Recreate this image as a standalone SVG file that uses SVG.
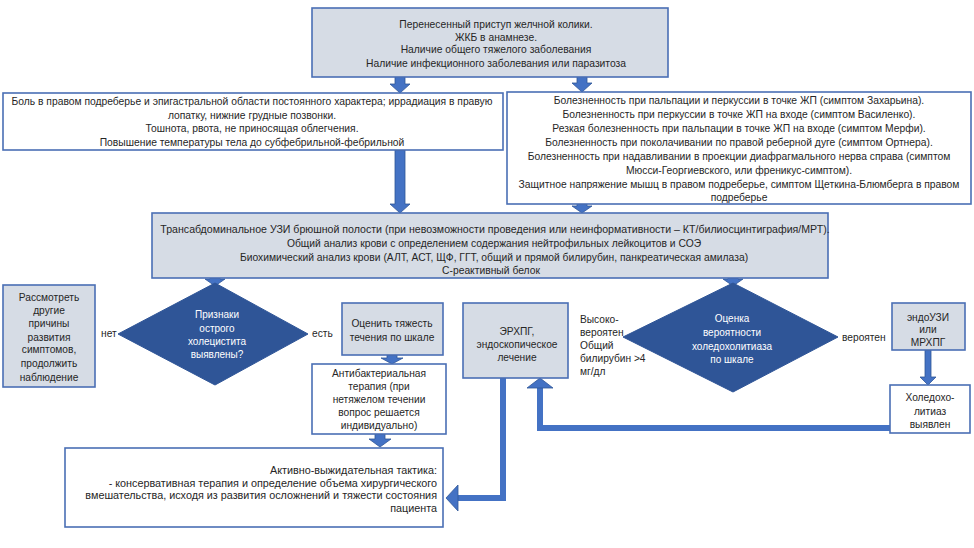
<svg xmlns="http://www.w3.org/2000/svg" width="974" height="548" viewBox="0 0 974 548">
<style>
.bg{fill:#ffffff}
.gray{fill:#d6dce5;stroke:#4a6fb5;stroke-width:1.6}
.white{fill:#ffffff;stroke:#4a6fb5;stroke-width:1.6}
.dia{fill:#2f5597;stroke:#2f5597;stroke-width:1}
text{font-family:"Liberation Sans",Arial,sans-serif;font-size:10.3px;fill:#262626}
.c{text-anchor:middle}
.r{text-anchor:end}
.l{text-anchor:start}
.w{fill:#ffffff;font-size:10px}
.big{font-size:10.8px}
.mid{font-size:10.2px}
.wide{font-size:10.6px}
.arr{fill:#4472c4;stroke:#2f5597;stroke-width:0.8}
.line{fill:none;stroke:#4472c4;stroke-width:6}
</style>
<rect class="bg" x="0" y="0" width="974" height="548"/>

<g id="connectors">
  <polygon class="arr" points="395,76 405,76 405,84 410,84 400,93 390,84 395,84"/>
  <polygon class="arr" points="577,76 587,76 587,83 592,83 582,92 572,83 577,83"/>
  <polygon class="arr" points="395,150 405,150 405,204 410,204 400,213 390,204 395,204"/>
  <polygon class="arr" points="577,204 587,204 587,206 592,206 582,213 572,206 577,206"/>
  <polygon class="arr" points="210,278 220,278 220,279 225,279 215,286 205,279 210,279"/>
  <polygon class="arr" points="728,278 738,278 738,279 743,279 733,286 723,279 728,279"/>
  <polygon class="arr" points="387,355 397,355 397,358 403,358 392,364 381,358 387,358"/>
  <polygon class="arr" points="375,434 385,434 385,439 391,439 380,447 369,439 375,439"/>
  <polygon class="arr" points="925,350 931,350 931,377 936,377 928,385 920,377 925,377"/>
  <polyline class="line" points="890,428 540,428 540,387"/>
  <polygon class="arr" points="527,388 553,388 540,378"/>
  <polyline class="line" points="503,378 503,498 457,498"/>
  <polygon class="arr" points="458,485 458,511 446,498"/>
</g>

<g id="n-top">
  <rect class="gray" x="312" y="8" width="356" height="69"/>
  <text class="c" x="496" y="27.5">Перенесенный приступ желчной колики.</text>
  <text class="c" x="496" y="40.5">ЖКБ в анамнезе.</text>
  <text class="c" x="496" y="53">Наличие общего тяжелого заболевания</text>
  <text class="c" x="496" y="66.5">Наличие инфекционного заболевания или паразитоза</text>
</g>

<g id="n-left">
  <rect class="white" x="3" y="93" width="500" height="57"/>
  <text class="c" x="252" y="105">Боль в правом подреберье  и эпигастральной области постоянного характера; иррадиация в правую</text>
  <text class="c" x="252" y="118.5">лопатку, нижние грудные позвонки.</text>
  <text class="c" x="252" y="132">Тошнота, рвота, не приносящая облегчения.</text>
  <text class="c" x="252" y="145.5">Повышение температуры  тела до субфебрильной-фебрильной</text>
</g>

<g id="n-right">
  <rect class="white" x="507" y="92" width="464" height="112"/>
  <text class="c" x="739" y="103.5">Болезненность при пальпации и перкуссии в точке ЖП (симптом Захарьина).</text>
  <text class="c" x="739" y="117.5">Болезненность при перкуссии в точке ЖП на входе (симптом  Василенко).</text>
  <text class="c" x="739" y="131.5">Резкая болезненность при пальпации в точке ЖП на входе (симптом  Мерфи).</text>
  <text class="c" x="739" y="145.5">Болезненность при поколачивании по правой реберной дуге (симптом Ортнера).</text>
  <text class="c" x="739" y="159.5">Болезненность при надавливании в проекции диафрагмального нерва справа (симптом</text>
  <text class="c" x="739" y="173.5">Мюсси-Георгиевского, или френикус-симптом).</text>
  <text class="c" x="739" y="187.5">Защитное напряжение мышц в правом подреберье, симптом Щеткина-Блюмберга в правом</text>
  <text class="c" x="739" y="200.5">подреберье</text>
</g>

<g id="n-diag">
  <rect class="gray" x="152" y="213" width="676" height="65"/>
  <text class="c wide" x="495" y="232.5">Трансабдоминальное УЗИ брюшной полости (при невозможности проведения или неинформативности – КТ/билиосцинтиграфия/МРТ).</text>
  <text class="c" x="494" y="246.5">Общий анализ крови с определением содержания нейтрофильных лейкоцитов и СОЭ</text>
  <text class="c" x="494" y="260.5">Биохимический анализ крови (АЛТ, АСТ, ЩФ, ГГТ, общий и прямой билирубин, панкреатическая амилаза)</text>
  <text class="c" x="491" y="273.5">С-реактивный белок</text>
</g>

<g id="n-dec1">
  <polygon class="dia" points="215,283 308,334 215,385 118,334"/>
  <text class="c w" x="217" y="318">Признаки</text>
  <text class="c w" x="217" y="331.5">острого</text>
  <text class="c w" x="217" y="345">холецистита</text>
  <text class="c w" x="217" y="358">выявлены?</text>
</g>
<text class="l mid" x="101" y="337">нет</text>
<text class="l mid" x="312" y="337">есть</text>

<g id="n-other">
  <rect class="gray" x="3" y="285" width="92" height="102"/>
  <text class="c mid" x="49" y="301">Рассмотреть</text>
  <text class="c mid" x="49" y="314">другие</text>
  <text class="c mid" x="49" y="327">причины</text>
  <text class="c mid" x="49" y="340.5">развития</text>
  <text class="c mid" x="49" y="353">симптомов,</text>
  <text class="c mid" x="49" y="366.5">продолжить</text>
  <text class="c mid" x="49" y="380.5">наблюдение</text>
</g>

<g id="n-severity">
  <rect class="gray" x="342" y="303" width="101" height="52"/>
  <text class="c mid" x="392" y="326.5">Оценить тяжесть</text>
  <text class="c mid" x="392" y="340.5">течения по шкале</text>
</g>

<g id="n-antibac">
  <rect class="white" x="312" y="364" width="134" height="70"/>
  <text class="c mid" x="379" y="376.5">Антибактериальная</text>
  <text class="c mid" x="379" y="389.5">терапия (при</text>
  <text class="c mid" x="379" y="402.5">нетяжелом течении</text>
  <text class="c mid" x="379" y="415.5">вопрос решается</text>
  <text class="c mid" x="379" y="429">индивидуально)</text>
</g>

<g id="n-tactics">
  <rect class="white" x="65" y="448" width="378" height="79"/>
  <text class="r big" x="437" y="473.5">Активно-выжидательная тактика:</text>
  <text class="r big" x="437" y="486.5">- консервативная терапия и определение объема хирургического</text>
  <text class="r big" x="437" y="499">вмешательства, исходя из развития осложнений и тяжести состояния</text>
  <text class="r big" x="437" y="511.5">пациента</text>
</g>

<g id="n-ercp">
  <rect class="gray" x="463" y="303" width="105" height="75"/>
  <text class="c mid" x="517" y="334.5">ЭРХПГ,</text>
  <text class="c mid" x="517" y="347.5">эндоскопическое</text>
  <text class="c mid" x="517" y="360.5">лечение</text>
</g>

<g id="n-dec2">
  <polygon class="dia" points="733,283 838,337 733,392 623,337"/>
  <text class="c w" x="732" y="321.5">Оценка</text>
  <text class="c w" x="732" y="335.5">вероятности</text>
  <text class="c w" x="732" y="349.5">холедохолитиаза</text>
  <text class="c w" x="732" y="362.5">по шкале</text>
</g>
<text class="l mid" x="580" y="322.5">Высоко-</text>
<text class="l mid" x="580" y="335.5">вероятен</text>
<text class="l mid" x="580" y="348.5">Общий</text>
<text class="l mid" x="580" y="361.5">билирубин &gt;4</text>
<text class="l mid" x="580" y="374.5">мг/дл</text>
<text class="l mid" x="842" y="340.5">вероятен</text>

<g id="n-eus">
  <rect class="gray" x="892" y="303" width="73" height="47"/>
  <text class="c mid" x="928" y="320.5">эндоУЗИ</text>
  <text class="c mid" x="928" y="332.5">или</text>
  <text class="c mid" x="928" y="345.5">МРХПГ</text>
</g>

<g id="n-stone">
  <rect class="white" x="890" y="385" width="80" height="48"/>
  <text class="c mid" x="930" y="400.5">Холедохо-</text>
  <text class="c mid" x="930" y="414.5">литиаз</text>
  <text class="c mid" x="930" y="427.5">выявлен</text>
</g>
</svg>
